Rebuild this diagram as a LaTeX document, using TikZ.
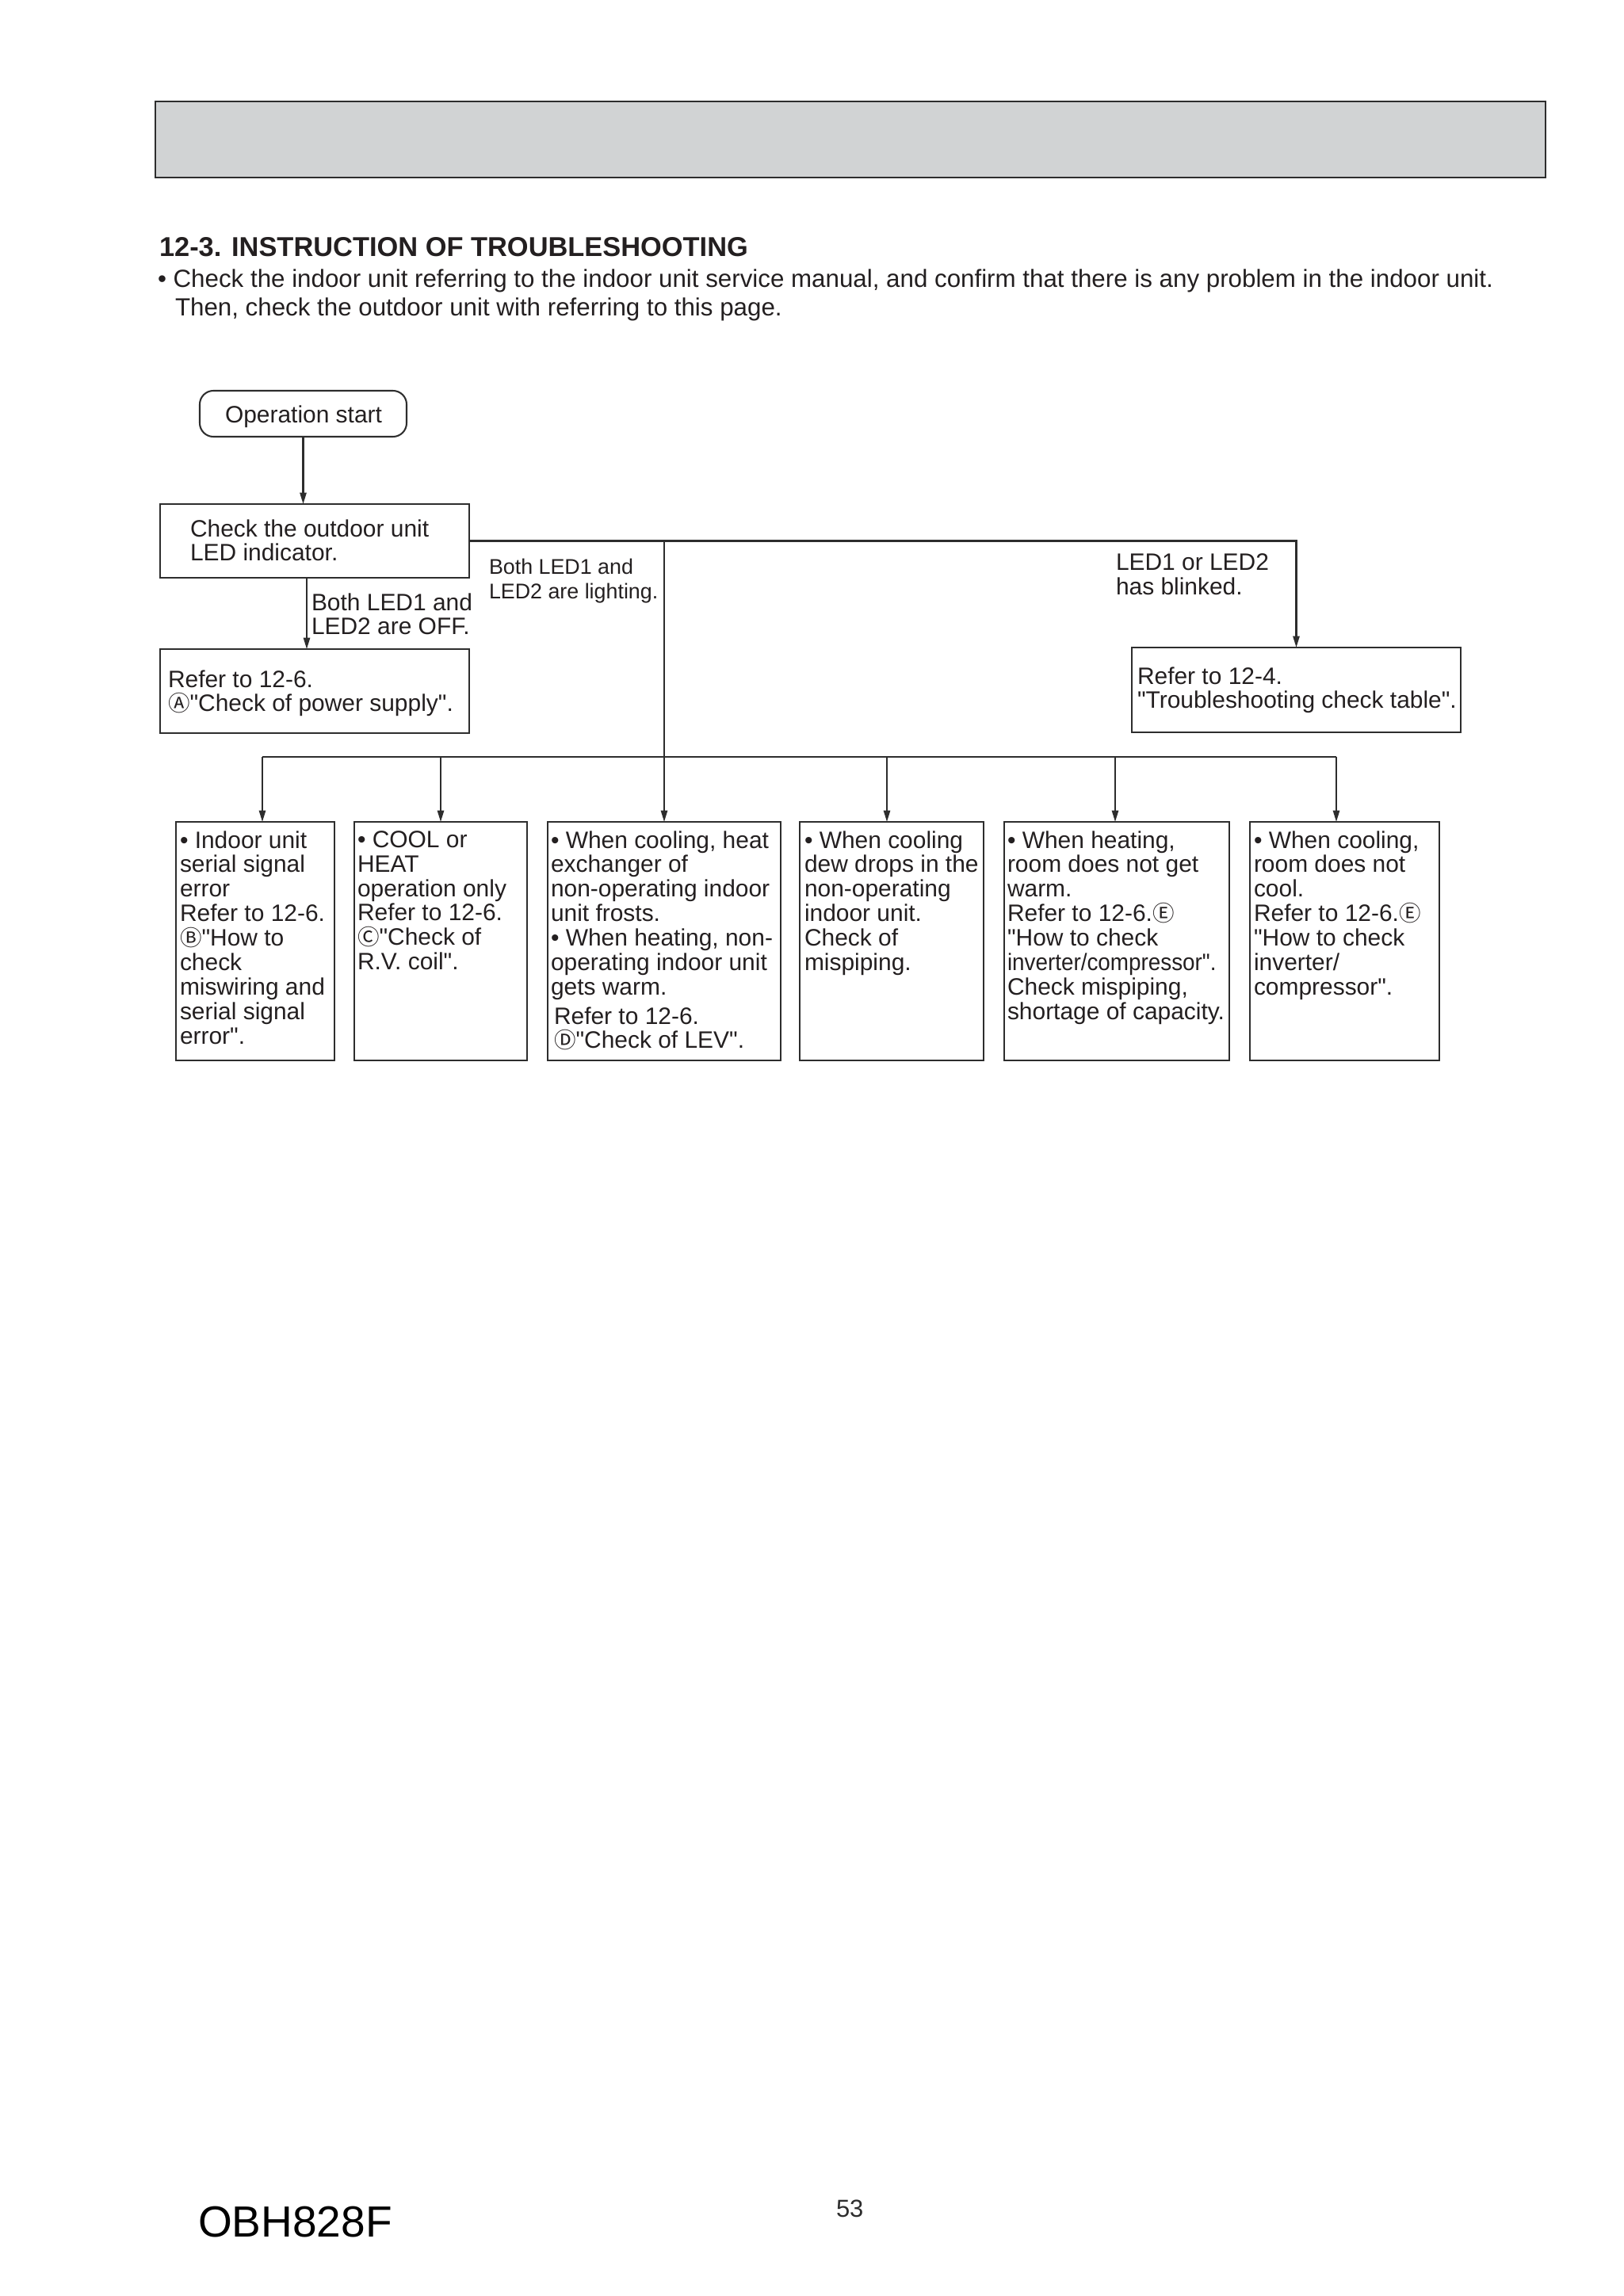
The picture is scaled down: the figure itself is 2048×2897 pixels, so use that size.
\documentclass[tikz,border=0pt]{standalone}
\usepackage{fontspec}
\setmainfont{Liberation Sans}[Ligatures=TeXOff]
\newfontfamily\cjk{Noto Sans CJK SC}
\usetikzlibrary{arrows.meta,fit}
\definecolor{ink}{RGB}{35,31,32}
\definecolor{lin}{RGB}{45,45,45}
\definecolor{hdr}{RGB}{209,211,212}
\newcommand{\circl}[1]{{\cjk\fontsize{8}{8}\selectfont #1}}
\newcommand{\cA}{\circl{Ⓐ}}
\newcommand{\cB}{\circl{Ⓑ}}
\newcommand{\cC}{\circl{Ⓒ}}
\newcommand{\cD}{\circl{Ⓓ}}
\newcommand{\cE}{\circl{Ⓔ}}
\begin{document}
\begin{tikzpicture}[x=0.29067pt,y=-0.29067pt,
  every node/.style={inner sep=0pt, outer sep=0pt, text=ink},
  bx/.style={draw=lin, line width=0.6pt, fit={#1}},
  startbx/.style={draw=lin, line width=0.6pt, rounded corners=5pt, fit={#1}},
  txt/.style={anchor=north west, align=left, font=\fontsize{8.7}{8.98}\selectfont, execute at begin node=\strut},
  smalltxt/.style={anchor=north west, align=left, font=\fontsize{7.8}{9}\selectfont, execute at begin node=\strut},
  ln/.style={draw=lin, line width=0.6pt},
  arr/.style={draw=lin, line width=0.6pt, -{Triangle[length=4.2pt,width=2.4pt]}}]
\useasboundingbox (0,0) rectangle (2048,2897);

% header band
\node[draw=lin, line width=0.8pt, fill=hdr, fit={(196,128) (1950,224)}] (header) {};

% title and intro
\node[anchor=base west, font=\fontsize{10}{11}\selectfont\bfseries] (title) at (201,323) {12-3. INSTRUCTION OF TROUBLESHOOTING};
\node[anchor=base west, font=\fontsize{9.1}{10}\selectfont] (intro1) at (199,362) {• Check the indoor unit referring to the indoor unit service manual, and confirm that there is any problem in the indoor unit.};
\node[anchor=base west, font=\fontsize{9.1}{10}\selectfont] (intro2) at (221,398) {Then, check the outdoor unit with referring to this page.};

% start
\node[startbx={(252,493) (513,551)}] (start) {};
\node[anchor=base, font=\fontsize{8.7}{9}\selectfont] (startt) at (383,533) {Operation start};

% check box
\node[bx={(202,636) (592,729)}] (check) {};
\node[txt] (checkt) at (240,655.4) {Check the outdoor unit\\LED indicator.};

% refer A
\node[bx={(202,819) (592,925)}] (refA) {};
\node[txt] (refAt) at (212,845.4) {Refer to 12-6.\\\cA"Check of power supply".};

% refer B
\node[bx={(1428,817) (1843,924)}] (refB) {};
\node[txt] (refBt) at (1435,841.4) {Refer to 12-4.\\"Troubleshooting check table".};

% branch labels
\node[txt] (offl) at (393,748.4) {Both LED1 and\\LED2 are OFF.};
\node[smalltxt] (lightl) at (617,705.4) {Both LED1 and\\LED2 are lighting.};
\node[txt] (blinkl) at (1408,698.4) {LED1 or LED2\\has blinked.};

% bottom boxes
\node[bx={(222,1037) (422,1338)}] (b1) {};
\node[bx={(447,1037) (665,1338)}] (b2) {};
\node[bx={(691,1037) (985,1338)}] (b3) {};
\node[bx={(1009,1037) (1241,1338)}] (b4) {};
\node[bx={(1267,1037) (1551,1338)}] (b5) {};
\node[bx={(1577,1037) (1816,1338)}] (b6) {};

\node[txt] (b1t) at (227,1048.4) {• Indoor unit\\serial signal\\error\\Refer to 12-6.\\\cB"How to\\check\\miswiring and\\serial signal\\error".};
\node[txt] (b2t) at (451,1048.4) {• COOL or\\HEAT\\operation only\\Refer to 12-6.\\\cC"Check of\\R.V. coil".};
\node[txt] (b3t) at (695,1048.4) {• When cooling, heat\\exchanger of\\non-operating indoor\\unit frosts.\\• When heating, non-\\operating indoor unit\\gets warm.};
\node[txt] (b3r) at (699,1270.4) {Refer to 12-6.\\\cD"Check of LEV".};
\node[txt] (b4t) at (1015,1048.4) {• When cooling\\dew drops in the\\non-operating\\indoor unit.\\Check of\\mispiping.};
\node[txt] (b5t) at (1271,1048.4) {• When heating,\\room does not get\\warm.\\Refer to 12-6.\cE\\"How to check\\\scalebox{0.93}[1]{inverter/compressor".}\\Check mispiping,\\shortage of capacity.};
\node[txt] (b6t) at (1582,1048.4) {• When cooling,\\room does not\\cool.\\Refer to 12-6.\cE\\"How to check\\inverter/\\compressor".};

% connectors
\coordinate (a1) at (387,700);
\coordinate (d1) at (331,955);
\coordinate (d2) at (556,955);
\coordinate (d4) at (1119,955);
\coordinate (d5) at (1407,955);
\coordinate (d6) at (1686,955);

\draw[arr] (start.south) -- (start.south |- check.north);
\draw[arr] (check.south -| a1) -- (refA.north -| a1);
\draw[arr] (check.east) -| (refB.north);
\draw[arr] (check.east -| b3.north) -- (b3.north);
\draw[ln] (d1) -- (d6);
\draw[arr] (d1) -- (d1 |- b1.north);
\draw[arr] (d2) -- (d2 |- b2.north);
\draw[arr] (d4) -- (d4 |- b4.north);
\draw[arr] (d5) -- (d5 |- b5.north);
\draw[arr] (d6) -- (d6 |- b6.north);

% footer
\node[anchor=base west, font=\fontsize{16}{18}\selectfont, text=black] (model) at (250,2822) {OBH828F};
\node[anchor=base west, font=\fontsize{9}{10}\selectfont, text=lin] (page) at (1055,2797) {53};
\end{tikzpicture}
\end{document}
